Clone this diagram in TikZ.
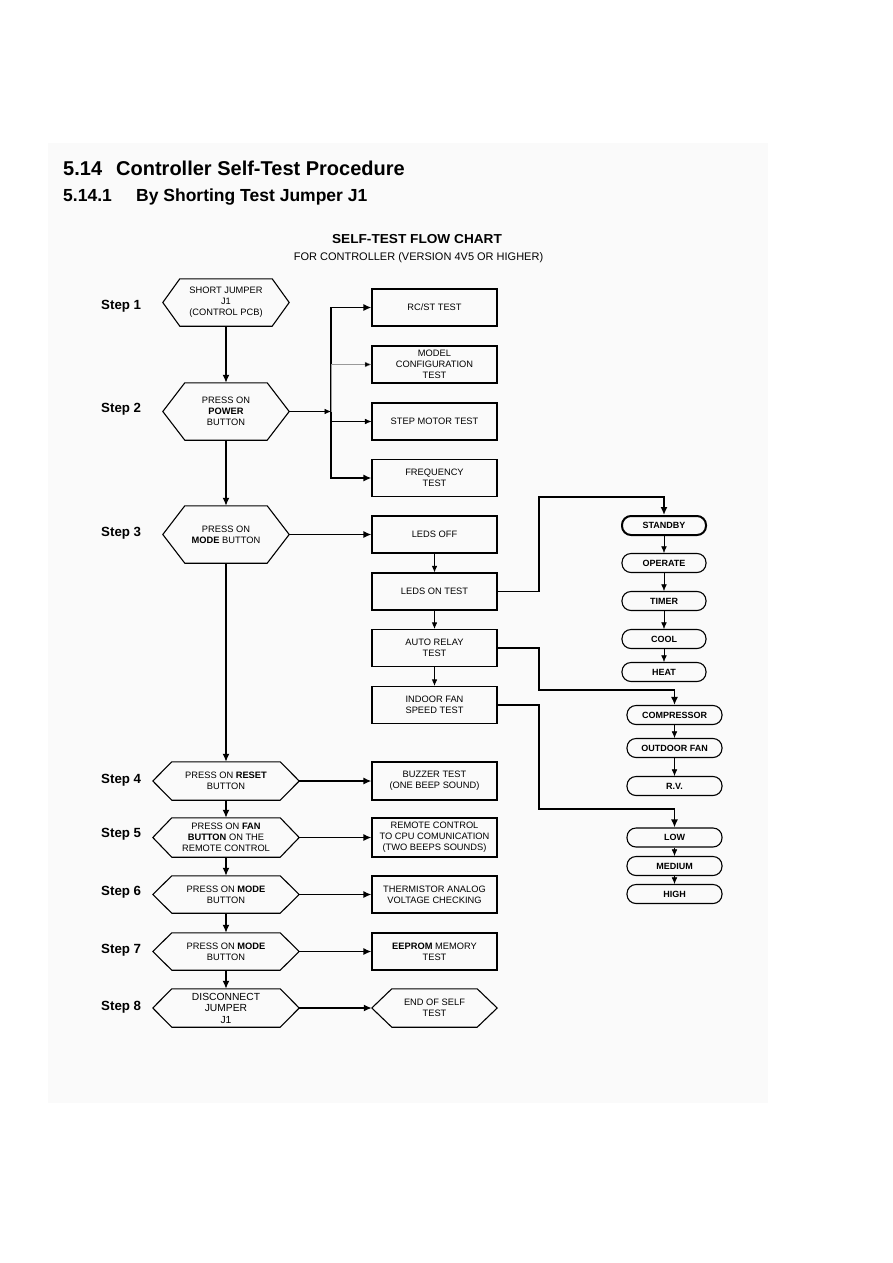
\documentclass[tikz,border=0pt]{standalone}
\usepackage{fontspec}
\setmainfont{Liberation Sans}
\usetikzlibrary{arrows.meta}
\begin{document}
\begin{tikzpicture}[x=1pt,y=-1pt,
  txt/.style={font=\fontsize{9.3}{10.8}\selectfont, align=center, inner sep=0pt},
  box/.style={txt, draw, line width=1.1pt, minimum width=125pt, minimum height=37pt},
  hexn/.style={txt, minimum width=126pt, minimum height=#1},
  hexw/.style={txt, minimum width=146pt, minimum height=#1},
  oval/.style={draw, line width=1.1pt, rounded corners=9pt, minimum width=84pt, minimum height=19pt, inner sep=0pt, font=\fontsize{9}{10}\selectfont\bfseries},
  ovalw/.style={oval, minimum width=95pt},
  steplbl/.style={anchor=west, inner sep=0pt, font=\fontsize{13.3}{15}\selectfont\bfseries},
  tk/.style={line width=1.5pt, -{Latex[length=8pt,width=7pt]}},
  tm/.style={line width=0.9pt, -{Latex[length=6.5pt,width=5.5pt]}},
  tn/.style={line width=0.5pt, -{Latex[length=6.5pt,width=5.5pt]}},
]
\useasboundingbox (0,0) rectangle (893,1263);
\fill[black!2] (48,143) rectangle (768,1103);

% headings
\node[anchor=base west, inner sep=0pt, font=\fontsize{20}{24}\selectfont\bfseries] (h1num) at (63,175) {5.14};
\node[anchor=base west, inner sep=0pt, font=\fontsize{20}{24}\selectfont\bfseries] (h1) at (116,175) {Controller Self-Test Procedure};
\node[anchor=base west, inner sep=0pt, font=\fontsize{17.5}{20}\selectfont\bfseries] (h2num) at (63,201) {5.14.1};
\node[anchor=base west, inner sep=0pt, font=\fontsize{17.5}{20}\selectfont\bfseries] (h2) at (136,201) {By Shorting Test Jumper J1};
\node[inner sep=0pt, font=\fontsize{13}{15}\selectfont\bfseries, xscale=1.05] (t1) at (417,239) {SELF-TEST FLOW CHART};
\node[inner sep=0pt, font=\fontsize{11}{13}\selectfont] (t2) at (418.5,258) {FOR CONTROLLER (VERSION 4V5 OR HIGHER)};

% step labels
\node[steplbl] (l1) at (101,306) {Step 1};
\node[steplbl] (l2) at (101,409) {Step 2};
\node[steplbl] (l3) at (101,533) {Step 3};
\node[steplbl] (l4) at (101,780) {Step 4};
\node[steplbl] (l5) at (101,834) {Step 5};
\node[steplbl] (l6) at (101,892) {Step 6};
\node[steplbl] (l7) at (101,950) {Step 7};
\node[steplbl] (l8) at (101,1007) {Step 8};

% hexagon steps
\node[hexn=47pt] (s1) at (226,302.5) {SHORT JUMPER\\J1\\(CONTROL PCB)};
\node[hexn=57pt] (s2) at (226,411.5) {PRESS ON\\\textbf{POWER}\\BUTTON};
\node[hexn=57pt] (s3) at (226,534.5) {PRESS ON\\\textbf{MODE} BUTTON};
\node[hexw=38pt] (s4) at (226,781) {PRESS ON \textbf{RESET}\\BUTTON};
\node[hexw=39pt] (s5) at (226,837.5) {PRESS ON \textbf{FAN}\\\textbf{BUTTON} ON THE\\REMOTE CONTROL};
\node[hexw=37pt] (s6) at (226,894.5) {PRESS ON \textbf{MODE}\\BUTTON};
\node[hexw=37pt] (s7) at (226,951.5) {PRESS ON \textbf{MODE}\\BUTTON};
\node[hexw=38pt, font=\fontsize{10.3}{11.5}\selectfont] (s8) at (226,1008) {DISCONNECT\\JUMPER\\J1};
\node[txt, minimum width=125pt, minimum height=38pt] (endt) at (434.5,1008) {END OF SELF\\TEST};

\foreach \n/\d in {s1/17,s2/22,s3/22,s4/19,s5/19,s6/19,s7/19,s8/19,endt/20}{
  \draw[line width=1.1pt, line join=miter] (\n.west) -- ([xshift=\d pt]\n.north west) -- ([xshift=-\d pt]\n.north east) -- (\n.east) -- ([xshift=-\d pt]\n.south east) -- ([xshift=\d pt]\n.south west) -- cycle;
}

% boxes
\node[box] (rcst) at (434.5,307.5) {RC/ST TEST};
\node[box] (model) at (434.5,364.5) {MODEL\\CONFIGURATION\\TEST};
\node[box] (motor) at (434.5,421.5) {STEP MOTOR TEST};
\node[box] (freq) at (434.5,478) {FREQUENCY\\TEST};
\node[box] (ledsoff) at (434.5,534.5) {LEDS OFF};
\node[box] (ledson) at (434.5,591.5) {LEDS ON TEST};
\node[box] (auto) at (434.5,648) {AUTO RELAY\\TEST};
\node[box] (indoor) at (434.5,705) {INDOOR FAN\\SPEED TEST};
\node[box, minimum height=38pt] (buzzer) at (434.5,781) {BUZZER TEST\\(ONE BEEP SOUND)};
\node[box, minimum height=39pt] (remote) at (434.5,837.5) {REMOTE CONTROL\\TO CPU COMUNICATION\\(TWO BEEPS SOUNDS)};
\node[box] (therm) at (434.5,894.5) {THERMISTOR ANALOG\\VOLTAGE CHECKING};
\node[box] (eeprom) at (434.5,951.5) {\textbf{EEPROM} MEMORY\\TEST};

% ovals
\node[oval, line width=2pt] (standby) at (664,525.5) {STANDBY};
\node[oval] (operate) at (664,563) {OPERATE};
\node[oval] (timer) at (664,601) {TIMER};
\node[oval] (cool) at (664,639) {COOL};
\node[oval] (heat) at (664,672) {HEAT};
\node[ovalw] (comp) at (674.5,715) {COMPRESSOR};
\node[ovalw] (outfan) at (674.5,748) {OUTDOOR FAN};
\node[ovalw] (rv) at (674.5,786) {R.V.};
\node[ovalw] (low) at (674.5,837.5) {LOW};
\node[ovalw] (medium) at (674.5,866) {MEDIUM};
\node[ovalw] (high) at (674.5,894) {HIGH};

% main column
\draw[tk] (s1) -- (s2);
\draw[tk] (s2) -- (s3);
\draw[tk] (s3) -- (s4);
\draw[tk] (s4) -- (s5);
\draw[tk] (s5) -- (s6);
\draw[tk] (s6) -- (s7);
\draw[tk] (s7) -- (s8);

% step 2 fan-out
\coordinate (bus) at (331,411.5);
\draw[tn] (s2.east) -- (bus);
\draw[line width=1.5pt] (331,307.5) -- (331,478);
\draw[tk] (bus) |- (rcst.west);
\draw[tk] (bus) |- (freq.west);
\draw[tn] (bus) |- (motor.west);
\draw[line width=0.25pt, draw=black!40, -{Latex[length=6.5pt,width=5.5pt,fill=black]}] (bus) |- (model.west);

% step 3 chain
\draw[tk] (s3) -- (ledsoff);
\draw[tm] (ledsoff) -- (ledson);
\draw[tm] (ledson) -- (auto);
\draw[tm] (auto) -- (indoor);

\draw[tk] (ledson.east) -| (539,497) -| (standby.north);
\draw[tk] (auto.east) -| (539,690) -| (comp.north);
\draw[tk] (indoor.east) -| (539,809) -| (low.north);

\draw[tn] (standby) -- (operate);
\draw[tn] (operate) -- (timer);
\draw[tn] (timer) -- (cool);
\draw[tn] (cool) -- (heat);
\draw[tn] (comp) -- (outfan);
\draw[tn] (outfan) -- (rv);
\draw[tn] (low) -- (medium);
\draw[tn] (medium) -- (high);

% steps 4-8 to results
\draw[tk] (s4) -- (buzzer);
\draw[tk] (s5) -- (remote);
\draw[tk] (s6) -- (therm);
\draw[tk] (s7) -- (eeprom);
\draw[tk] (s8) -- (endt);
\end{tikzpicture}
\end{document}
